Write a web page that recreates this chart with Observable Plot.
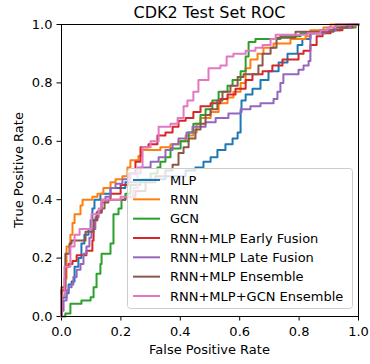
<!DOCTYPE html>
<html><head><meta charset="utf-8">
<script src="https://cdn.jsdelivr.net/npm/d3@7"></script>
<script src="https://cdn.jsdelivr.net/npm/@observablehq/plot@0.6"></script>
<style>body{margin:0;background:#fff}</style>
</head><body><div id="chart"></div>
<script>
const titleText = "CDK2 Test Set ROC";
const xLabel = "False Positive Rate";
const yLabel = "True Positive Rate";
const seriesNames = ["MLP","RNN","GCN","RNN+MLP Early Fusion","RNN+MLP Late Fusion","RNN+MLP Ensemble","RNN+MLP+GCN Ensemble"];
const seriesColors = ["#1f77b4","#ff7f0e","#2ca02c","#d62728","#9467bd","#8c564b","#e377c2"];
const xTicks = [0,0.2,0.4,0.6,0.8,1.0];
const yTicks = [0,0.2,0.4,0.6,0.8,1.0];

const mlpFpr = [0,0.003,0.017,0.024,0.034,0.044,0.057,0.067,0.077,0.091,0.098,0.104,0.111,0.131,0.165,0.215,0.283,0.350,0.418,0.451,0.478,0.502,0.525,0.552,0.576,0.593,0.603,0.606,0.620,0.643,0.670,0.697,0.731,0.761,0.795,0.811,0.838,0.872,0.923];
const mlpTpr = [0.02,0.065,0.08,0.11,0.12,0.17,0.20,0.25,0.28,0.30,0.33,0.37,0.40,0.42,0.44,0.46,0.47,0.48,0.50,0.51,0.53,0.545,0.57,0.59,0.61,0.63,0.70,0.74,0.76,0.78,0.81,0.84,0.87,0.90,0.93,0.95,0.97,0.98,1.0];

const rnnFpr = [0,0.010,0.017,0.030,0.037,0.044,0.064,0.071,0.104,0.121,0.141,0.165,0.182,0.205,0.222,0.232,0.259,0.269,0.333,0.367,0.394,0.418,0.444,0.455,0.468,0.502,0.529,0.559,0.579,0.603,0.620,0.636,0.660,0.680,0.714,0.771,0.822,0.838,0.882,0.906];
const rnnTpr = [0.09,0.13,0.24,0.28,0.32,0.35,0.38,0.40,0.41,0.42,0.44,0.46,0.47,0.48,0.51,0.535,0.55,0.57,0.58,0.59,0.60,0.62,0.63,0.66,0.68,0.70,0.73,0.75,0.77,0.80,0.85,0.88,0.90,0.92,0.935,0.95,0.96,0.98,0.99,1.0];

const gcnFpr = [0.013,0.030,0.067,0.098,0.108,0.118,0.131,0.135,0.165,0.175,0.192,0.202,0.215,0.232,0.266,0.300,0.323,0.333,0.350,0.367,0.401,0.428,0.444,0.468,0.485,0.508,0.529,0.559,0.576,0.603,0.620,0.630,0.653,0.737,0.805,0.872,0.939,0.990];
const gcnTpr = [0.01,0.044,0.055,0.066,0.10,0.146,0.18,0.215,0.25,0.35,0.37,0.40,0.42,0.45,0.47,0.49,0.51,0.53,0.545,0.575,0.60,0.63,0.66,0.69,0.71,0.74,0.77,0.79,0.81,0.84,0.89,0.94,0.95,0.96,0.97,0.98,0.99,1.0];

const earlyFpr = [0,0.013,0.024,0.037,0.051,0.084,0.104,0.108,0.121,0.135,0.165,0.199,0.226,0.249,0.266,0.293,0.323,0.350,0.374,0.394,0.418,0.444,0.468,0.502,0.535,0.559,0.586,0.620,0.643,0.677,0.710,0.744,0.798,0.815,0.838,0.859,0.879,0.906,0.946,0.980];
const earlyTpr = [0.09,0.17,0.18,0.19,0.21,0.225,0.26,0.33,0.36,0.40,0.42,0.45,0.49,0.53,0.58,0.59,0.62,0.63,0.65,0.67,0.68,0.70,0.72,0.73,0.745,0.76,0.78,0.81,0.83,0.84,0.86,0.88,0.90,0.91,0.93,0.96,0.97,0.98,0.99,1.0];

const lateFpr = [0,0.007,0.017,0.024,0.034,0.040,0.051,0.064,0.074,0.084,0.094,0.101,0.114,0.125,0.135,0.148,0.165,0.182,0.205,0.232,0.266,0.300,0.327,0.350,0.374,0.394,0.421,0.441,0.485,0.519,0.562,0.603,0.636,0.670,0.714,0.727,0.737,0.747,0.798,0.815,0.832,0.838,0.889,0.923,0.973];
const lateTpr = [0.02,0.055,0.09,0.10,0.11,0.135,0.16,0.18,0.215,0.24,0.27,0.30,0.34,0.36,0.39,0.41,0.44,0.455,0.47,0.49,0.51,0.53,0.545,0.57,0.59,0.61,0.63,0.65,0.665,0.68,0.695,0.71,0.72,0.73,0.745,0.77,0.80,0.83,0.845,0.86,0.875,0.97,0.98,0.99,1.0];

const ensFpr = [0,0.013,0.027,0.034,0.081,0.108,0.118,0.135,0.145,0.158,0.215,0.249,0.283,0.316,0.350,0.374,0.394,0.411,0.428,0.451,0.468,0.485,0.502,0.525,0.542,0.569,0.593,0.613,0.663,0.677,0.704,0.724,0.788,0.916,0.963];
const ensTpr = [0.10,0.215,0.25,0.26,0.29,0.33,0.355,0.37,0.39,0.40,0.41,0.43,0.46,0.48,0.50,0.52,0.56,0.58,0.61,0.64,0.66,0.69,0.71,0.74,0.77,0.79,0.82,0.83,0.86,0.90,0.92,0.955,0.975,0.99,1.0];

const allFpr = [0,0.010,0.030,0.044,0.061,0.101,0.125,0.135,0.199,0.242,0.256,0.273,0.300,0.327,0.367,0.391,0.411,0.424,0.444,0.461,0.495,0.535,0.556,0.579,0.620,0.653,0.677,0.704,0.721,0.828,0.872,0.896,0.923];
const allTpr = [0.07,0.17,0.24,0.28,0.30,0.35,0.37,0.40,0.41,0.44,0.51,0.58,0.60,0.65,0.66,0.68,0.72,0.74,0.77,0.81,0.85,0.86,0.89,0.90,0.91,0.92,0.93,0.95,0.965,0.97,0.98,0.99,1.0];

const fprs = [mlpFpr, rnnFpr, gcnFpr, earlyFpr, lateFpr, ensFpr, allFpr];
const tprs = [mlpTpr, rnnTpr, gcnTpr, earlyTpr, lateTpr, ensTpr, allTpr];

function rows(name, fpr, tpr) {
  const r = [{name, fpr: 0, tpr: 0}];
  fpr.forEach((f, i) => r.push({name, fpr: f, tpr: tpr[i]}));
  r.push({name, fpr: 1, tpr: 1});
  return r;
}
const series = seriesNames.map((n, i) => ({name: n, color: seriesColors[i], rows: rows(n, fprs[i], tprs[i])}));

const W = 370, H = 364, mL = 61, mR = 12, mT = 24, mB = 48;
const chart = Plot.plot({
  width: W, height: H,
  marginLeft: mL, marginRight: mR, marginTop: mT, marginBottom: mB,
  style: {fontFamily: "DejaVu Sans", fontSize: "13px", color: "#000", background: "#fff"},
  x: {domain: [0, 1], ticks: xTicks, tickFormat: d3.format(".1f"), label: null, tickSize: 4.5, tickPadding: 6},
  y: {domain: [0, 1], ticks: yTicks, tickFormat: d3.format(".1f"), label: null, tickSize: 4.5, tickPadding: 4.5},
  marks: [
    ...series.map(s => Plot.line(s.rows, {x: "fpr", y: "tpr", curve: "step-after", stroke: s.color, strokeWidth: 2})),
    Plot.frame({stroke: "#000", strokeWidth: 1})
  ]
});
document.getElementById("chart").appendChild(chart);

const svg = d3.select(chart);
const cx = mL + (W - mL - mR) / 2, cy = mT + (H - mT - mB) / 2;
svg.append("text").attr("x", cx).attr("y", 12).attr("dy", "0.35em").attr("text-anchor", "middle")
  .style("font-size", "16px").attr("fill", "#000").text(titleText);
svg.append("text").attr("x", cx).attr("y", 349).attr("dy", "0.35em").attr("text-anchor", "middle")
  .attr("fill", "#000").text(xLabel);
svg.append("text").attr("transform", `translate(18,${cy}) rotate(-90)`).attr("dy", "0.35em").attr("text-anchor", "middle")
  .attr("fill", "#000").text(yLabel);

const lg = svg.append("g");
const lgX = 127, lgY = 168, lgW = 225, lgH = 140, rowH = 19.33, row0 = 180;
lg.append("rect").attr("x", lgX + 0.5).attr("y", lgY + 0.5).attr("width", lgW).attr("height", lgH).attr("rx", 3)
  .attr("fill", "#fff").attr("fill-opacity", 0.8).attr("stroke", "#cccccc").attr("stroke-width", 1);
series.forEach((s, i) => {
  const y = row0 + i * rowH;
  lg.append("line").attr("x1", 133).attr("x2", 160).attr("y1", y).attr("y2", y)
    .attr("stroke", s.color).attr("stroke-width", 2);
  lg.append("text").attr("x", 170).attr("y", y).attr("dy", "0.35em").attr("text-anchor", "start")
    .attr("fill", "#000").text(s.name);
});
</script></body></html>
